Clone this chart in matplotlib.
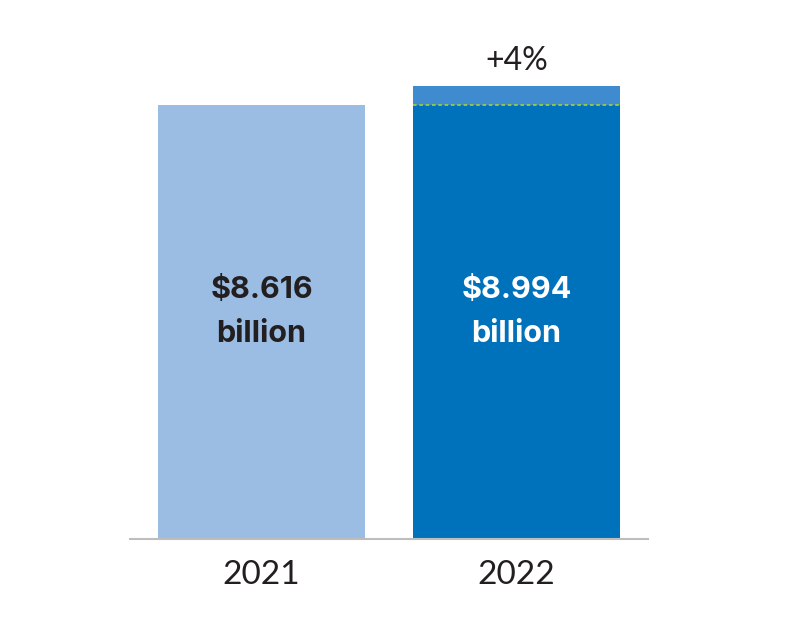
import matplotlib
matplotlib.use("Agg")
import matplotlib.pyplot as plt

years = ["2021", "2022"]
values = [8.616, 8.994]
value_labels = ["$8.616", "$8.994"]
unit_label = "billion"
change_label = "+4%"

c_2021 = "#9bbde3"
c_2022 = "#0072bb"
c_growth = "#3f8bcf"
c_dash = "#9ccb3b"
c_text = "#231f20"

plt.rcParams['font.family'] = ['Lato', 'DejaVu Sans']

fig = plt.figure(figsize=(8, 6.24), dpi=100)
ax = fig.add_axes([130/800, (624-539)/624, 518/800, 505/624])

x = [0, 1]
w = 0.812
# 2021 bar
ax.bar(x[0], values[0], width=w, color=c_2021, zorder=2)
# 2022 bar: base portion and growth portion
ax.bar(x[1], values[0], width=w, color=c_2022, zorder=2)
ax.bar(x[1], values[1] - values[0], bottom=values[0], width=w, color=c_growth, zorder=2)
ax.plot([x[1] - w/2, x[1] + w/2], [values[0], values[0]], color=c_dash,
        linestyle=(0, (2, 1.5)), linewidth=1.3, zorder=3)

ymax = 10.02
ax.set_xlim(-0.516, 1.516)
ax.set_ylim(0, ymax)

for spine in ["top", "right", "left"]:
    ax.spines[spine].set_visible(False)
ax.spines["bottom"].set_color("#bdbdbd")
ax.spines["bottom"].set_linewidth(1.5)
ax.set_yticks([])
ax.set_xticks(x)
ax.set_xticklabels(years, fontsize=24, color=c_text)
ax.tick_params(axis="x", length=0, pad=15)

label_colors = [c_text, "white"]
bold_font = ['Inter', 'DejaVu Sans']
for xi, lab, col in zip(x, value_labels, label_colors):
    ax.text(xi, (539-298)/505*ymax, lab, ha="center", va="baseline",
            fontsize=22, fontweight="bold", color=col, zorder=4, family=bold_font)
    ax.text(xi, (539-342)/505*ymax, unit_label, ha="center", va="baseline",
            fontsize=22, fontweight="bold", color=col, zorder=4, family=bold_font)

ax.annotate(change_label, xy=(x[1], values[1]), xytext=(0, 11),
            textcoords="offset points", ha="center", va="baseline",
            fontsize=23, color=c_text)

fig.savefig("out.png", dpi=100)
